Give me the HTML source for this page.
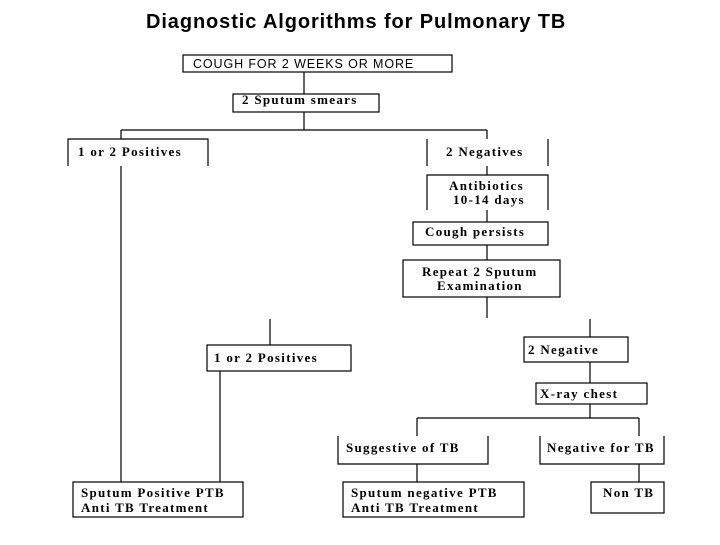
<!DOCTYPE html>
<html><head><style>
body{margin:0;background:#fff;width:720px;height:540px;overflow:hidden}
svg text{font-family:"Liberation Serif",serif;font-size:13px;font-weight:bold;letter-spacing:1.3px;fill:#000}
</style></head><body>
<svg width="720" height="540" xmlns="http://www.w3.org/2000/svg">
<text x="146" y="28" style="font-family:'Liberation Sans',sans-serif;font-size:20px;font-weight:bold;letter-spacing:0.9px">Diagnostic Algorithms for Pulmonary TB</text>
<g stroke="#000" stroke-width="1.2" fill="none">
<rect x="183" y="55" width="269" height="17"/>
<line x1="304" y1="72" x2="304" y2="94"/>
<rect x="233" y="94" width="146" height="18"/>
<line x1="304" y1="112" x2="304" y2="130"/>
<line x1="121" y1="130" x2="487" y2="130"/>
<line x1="121" y1="130" x2="121" y2="139"/>
<line x1="487" y1="130" x2="487" y2="139"/>
<polyline points="68,166 68,139 208,139 208,166"/>
<line x1="427" y1="139" x2="427" y2="166"/><line x1="548" y1="139" x2="548" y2="166"/>
<line x1="121" y1="166" x2="121" y2="482"/>
<line x1="487" y1="166" x2="487" y2="175"/>
<polyline points="427,210 427,175 548,175 548,210"/>
<line x1="487" y1="210" x2="487" y2="222"/>
<rect x="413" y="222" width="135" height="23"/>
<line x1="487" y1="245" x2="487" y2="260"/>
<rect x="403" y="260" width="157" height="37"/>
<line x1="487" y1="297" x2="487" y2="318"/>
<line x1="270" y1="319" x2="270" y2="345"/>
<rect x="207" y="345" width="144" height="26"/>
<line x1="220" y1="371" x2="220" y2="482"/>
<rect x="73" y="482" width="170" height="35"/>
<line x1="590" y1="319" x2="590" y2="337"/>
<rect x="524" y="337" width="104" height="25"/>
<line x1="590" y1="362" x2="590" y2="383"/>
<rect x="536" y="383" width="111" height="21"/>
<line x1="590" y1="404" x2="590" y2="418"/>
<line x1="417" y1="418" x2="639" y2="418"/>
<line x1="417" y1="418" x2="417" y2="436"/>
<line x1="639" y1="418" x2="639" y2="436"/>
<polyline points="338,436 338,464 488,464 488,436"/>
<polyline points="540,436 540,464 664,464 664,436"/>
<line x1="417" y1="464" x2="417" y2="482"/>
<line x1="639" y1="464" x2="639" y2="482"/>
<rect x="343" y="482" width="181" height="35"/>
<rect x="591" y="482" width="73" height="31"/>
</g>
<text x="193" y="68" style="font-family:'Liberation Sans',sans-serif;font-weight:normal;font-size:12.5px;letter-spacing:0.9px">COUGH FOR 2 WEEKS OR MORE</text>
<text x="242" y="104">2 Sputum smears</text>
<text x="78" y="156">1 or 2 Positives</text>
<text x="446" y="156">2 Negatives</text>
<text x="449" y="190">Antibiotics</text>
<text x="453" y="204">10-14 days</text>
<text x="425" y="236">Cough persists</text>
<text x="422" y="276">Repeat 2 Sputum</text>
<text x="437" y="290">Examination</text>
<text x="214" y="362">1 or 2 Positives</text>
<text x="528" y="354">2 Negative</text>
<text x="540" y="398">X-ray chest</text>
<text x="346" y="452">Suggestive of TB</text>
<text x="547" y="452">Negative for TB</text>
<text x="81" y="497">Sputum Positive PTB</text>
<text x="81" y="512">Anti TB Treatment</text>
<text x="351" y="497">Sputum negative PTB</text>
<text x="351" y="512">Anti TB Treatment</text>
<text x="603" y="497">Non TB</text>
</svg>
</body></html>
